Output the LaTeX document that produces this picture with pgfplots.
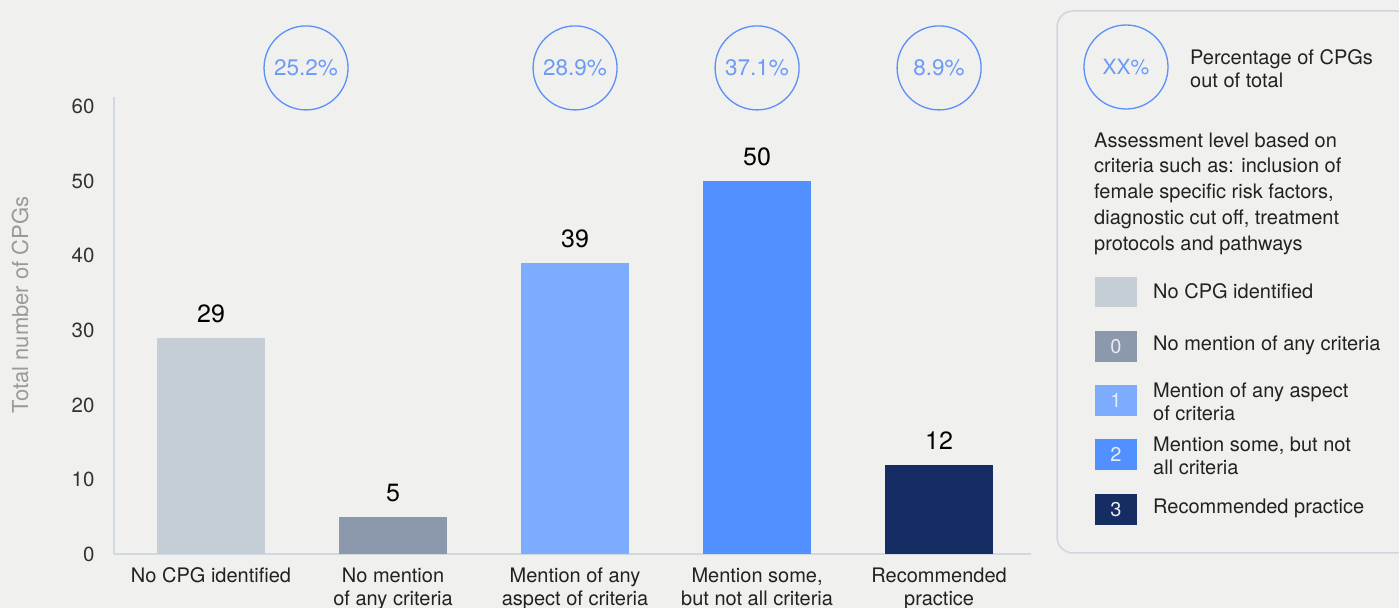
\documentclass[border=0pt]{standalone}
\usepackage{pgfplots}
\pgfplotsset{compat=1.18}
\usepackage{fontspec}
\setmainfont{TeX Gyre Heros}
\definecolor{bg}{HTML}{F0F0EE}
\definecolor{cA}{HTML}{C5CDD5}
\definecolor{cB}{HTML}{8C98AB}
\definecolor{cC}{HTML}{7DACFF}
\definecolor{cD}{HTML}{528FFF}
\definecolor{cE}{HTML}{162D63}
\definecolor{axisc}{HTML}{D0D8E0}
\definecolor{circc}{HTML}{5B8FF9}
\definecolor{circt}{HTML}{6B9BF7}
\definecolor{borderc}{HTML}{CFD6DE}
\definecolor{tickc}{HTML}{333333}
\definecolor{txt}{HTML}{222222}
\definecolor{ylabc}{HTML}{9A9A9A}
\definecolor{swt}{HTML}{E8ECF4}
\newcommand{\fs}[1]{\fontsize{#1bp}{1.15\dimexpr#1bp\relax}\selectfont}
\begin{document}
\begin{tikzpicture}[x=1bp,y=1bp]
\fill[bg] (0,0) rectangle (1399,608);
\useasboundingbox (0,0) rectangle (1399,608);
\begin{axis}[
  at={(114bp,54bp)}, anchor=south west,
  scale only axis, width=917bp, height=457bp,
  xmin=-0.533, xmax=4.505, ymin=0, ymax=61.3,
  axis x line*=bottom, axis y line*=left,
  axis line style={draw=axisc, line width=1.5bp, -},
  major tick length=0pt,
  clip=false,
  /pgf/number format/assume math mode=true,
  ytick={0,10,20,30,40,50,60},
  yticklabel style={font=\fs{20.5}, text=tickc, xshift=-16bp},
  xtick={0,1,2,3,4},
  xticklabels={{No CPG identified},{No mention\\of any criteria},{Mention of any\\aspect of criteria},{Mention some,\\but not all criteria},{Recommended\\practice}},
  xticklabel style={align=center, font=\fontsize{20bp}{23bp}\selectfont, text=txt, yshift=-10bp},
  ylabel={Total number of CPGs},
  ylabel style={at={(axis description cs:-0.1025,0.545)}, anchor=center, font=\fs{22}, text=ylabc},
  nodes near coords,
  nodes near coords style={font=\fs{25}, text=black, anchor=center, yshift=24bp},
]
\addplot[ybar, bar width=108.5bp, bar shift=0pt, fill=cA, draw=none] coordinates {(0,29)};
\addplot[ybar, bar width=108.5bp, bar shift=0pt, fill=cB, draw=none] coordinates {(1,5)};
\addplot[ybar, bar width=108.5bp, bar shift=0pt, fill=cC, draw=none] coordinates {(2,39)};
\addplot[ybar, bar width=108.5bp, bar shift=0pt, fill=cD, draw=none] coordinates {(3,50)};
\addplot[ybar, bar width=108.5bp, bar shift=0pt, fill=cE, draw=none] coordinates {(4,12)};
\begin{scope}[every node/.style={circle, draw=circc, line width=1.3bp, minimum size=84bp, inner sep=0pt, text=circt, font=\fs{22.5}}]
\node at (axis cs:0.522,65.2) {25.2\%};
\node at (axis cs:2,65.2) {28.9\%};
\node at (axis cs:3,65.2) {37.1\%};
\node at (axis cs:4,65.2) {8.9\%};
\end{scope}
\end{axis}
% legend panel
\draw[borderc, line width=1.5bp, rounded corners=16bp] (1057,55) rectangle (1412,597);
\node[circle, draw=circc, line width=1.3bp, minimum size=84bp, inner sep=0pt, text=circt, font=\fs{21}] at (1126,541) {XX\%};
\node[anchor=west, align=left, inner sep=0pt, text=txt, font=\fontsize{20bp}{23bp}\selectfont] at (1190,539.5) {Percentage of CPGs\\out of total};
\node[anchor=west, align=left, inner sep=0pt, text=txt, font=\fontsize{20bp}{25.75bp}\selectfont] at (1094,414.5) {Assessment level based on\\criteria such as: inclusion of\\female specific risk factors,\\diagnostic cut off, treatment\\protocols and pathways};
\fill[cA] (1095,331) rectangle (1137,301);
\fill[cB] (1095,277) rectangle (1137,246);
\fill[cC] (1095,223) rectangle (1137,192);
\fill[cD] (1095,169) rectangle (1137,138);
\fill[cE] (1095,114) rectangle (1137,83);
\begin{scope}[every node/.style={text=swt, font=\fs{20}, inner sep=0pt}]
\node at (1116,261.5) {0};
\node at (1116,207.5) {1};
\node at (1116,153.5) {2};
\node at (1116,98.5) {3};
\end{scope}
\begin{scope}[every node/.style={anchor=west, align=left, inner sep=0pt, text=txt, font=\fontsize{20bp}{23bp}\selectfont}]
\node at (1153,317) {No CPG identified};
\node at (1153,263) {No mention of any criteria};
\node at (1153,206.5) {Mention of any aspect\\of criteria};
\node at (1153,152) {Mention some, but not\\all criteria};
\node at (1153,100) {Recommended practice};
\end{scope}
\end{tikzpicture}
\end{document}
